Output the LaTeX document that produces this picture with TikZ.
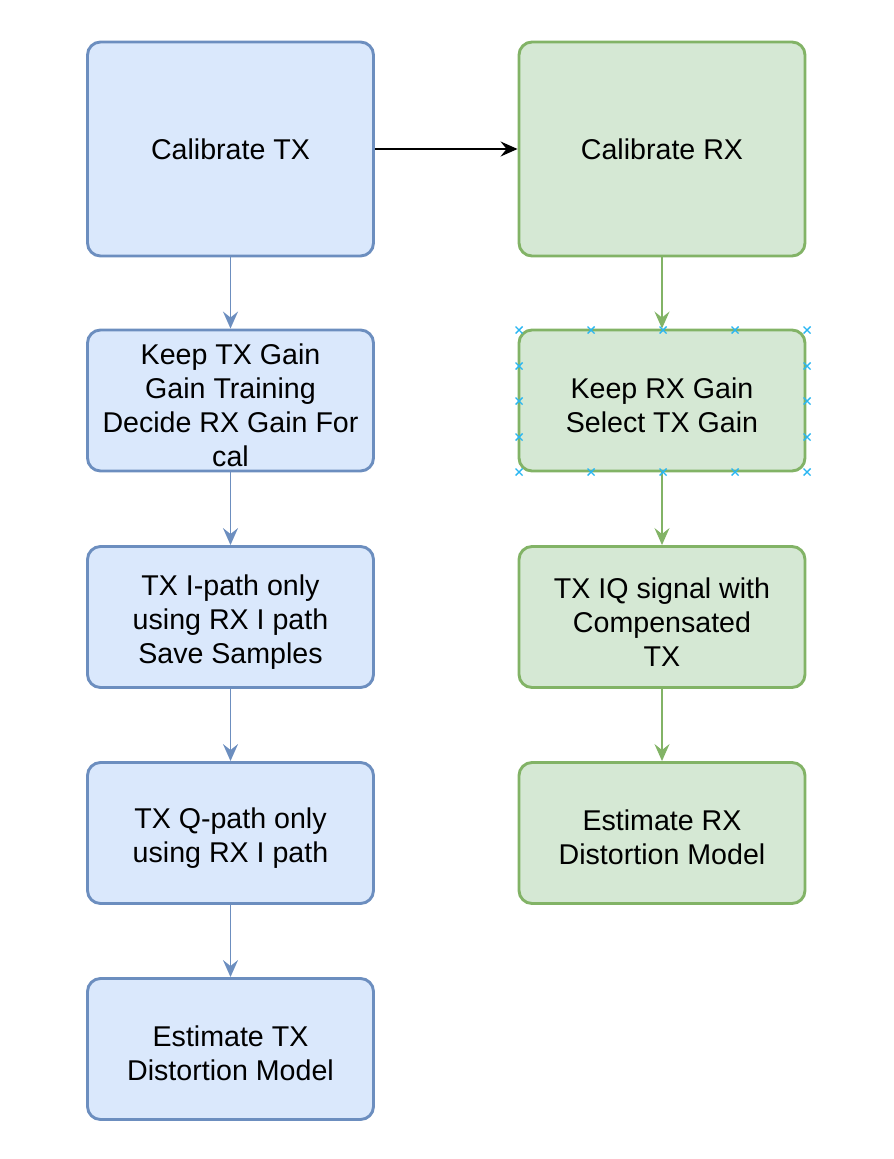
\documentclass[tikz,border=0pt]{standalone}
\usepackage{fontspec}
\setmainfont{Liberation Sans}
\usetikzlibrary{arrows.meta}
\definecolor{bfill}{HTML}{DAE8FC}
\definecolor{bline}{HTML}{6C8EBF}
\definecolor{gfill}{HTML}{D5E8D4}
\definecolor{gline}{HTML}{82B366}
\definecolor{mark}{HTML}{29B6F2}
\begin{document}
\begin{tikzpicture}[x=1pt,y=-1pt,
  box/.style={rectangle,rounded corners=13pt,line width=2.9pt,minimum width=286pt,inner sep=0pt,align=center,font=\fontsize{28.6}{34}\selectfont},
  bbox/.style={box,draw=bline,fill=bfill},
  gbox/.style={box,draw=gline,fill=gfill},
  arr/.style={line width=1.8pt,-{Stealth[length=17pt,width=15pt,inset=6pt]}},
  xmark/.style={draw=mark,line width=1.4pt}]
\useasboundingbox (0,0) rectangle (894,1159);
\node[bbox,minimum height=214pt] (t1) at (230.5,149) {Calibrate TX};
\node[bbox,minimum height=141pt] (t2) at (230.5,400.5) {\rule{0pt}{30pt}Keep TX Gain\\Gain Training\\Decide RX Gain For\\cal};
\node[bbox,minimum height=141pt] (t3) at (230.5,617) {\rule{0pt}{30pt}TX I-path only\\using RX I path\\Save Samples};
\node[bbox,minimum height=141pt] (t4) at (230.5,833) {\rule{0pt}{30pt}TX Q-path only\\using RX I path};
\node[bbox,minimum height=141pt] (t5) at (230.5,1049) {\rule{0pt}{30pt}Estimate TX\\Distortion Model};
\node[gbox,minimum height=214pt] (r1) at (662,149) {Calibrate RX};
\node[gbox,minimum height=141pt] (r2) at (662,400.5) {\rule{0pt}{30pt}Keep RX Gain\\Select TX Gain};
\node[gbox,minimum height=141pt] (r3) at (662,617) {\rule{0pt}{30pt}TX IQ signal with\\Compensated\\TX};
\node[gbox,minimum height=141pt] (r4) at (662,833) {\rule{0pt}{30pt}Estimate RX\\Distortion Model};
\draw[arr,black] (t1.east) -- (r1.west);
\draw[arr,bline] (t1) -- (t2);
\draw[arr,bline] (t2) -- (t3);
\draw[arr,bline] (t3) -- (t4);
\draw[arr,bline] (t4) -- (t5);
\draw[arr,gline] (r1) -- (r2);
\draw[arr,gline] (r2) -- (r3);
\draw[arr,gline] (r3) -- (r4);
\foreach \x in {519,591,663,735,807}{
  \foreach \y in {330,472}{
    \draw[xmark] (\x-3.5,\y-3.5) -- (\x+3.5,\y+3.5) (\x-3.5,\y+3.5) -- (\x+3.5,\y-3.5);}}
\foreach \x in {519,807}{
  \foreach \y in {366,401,437}{
    \draw[xmark] (\x-3.5,\y-3.5) -- (\x+3.5,\y+3.5) (\x-3.5,\y+3.5) -- (\x+3.5,\y-3.5);}}
\end{tikzpicture}
\end{document}
